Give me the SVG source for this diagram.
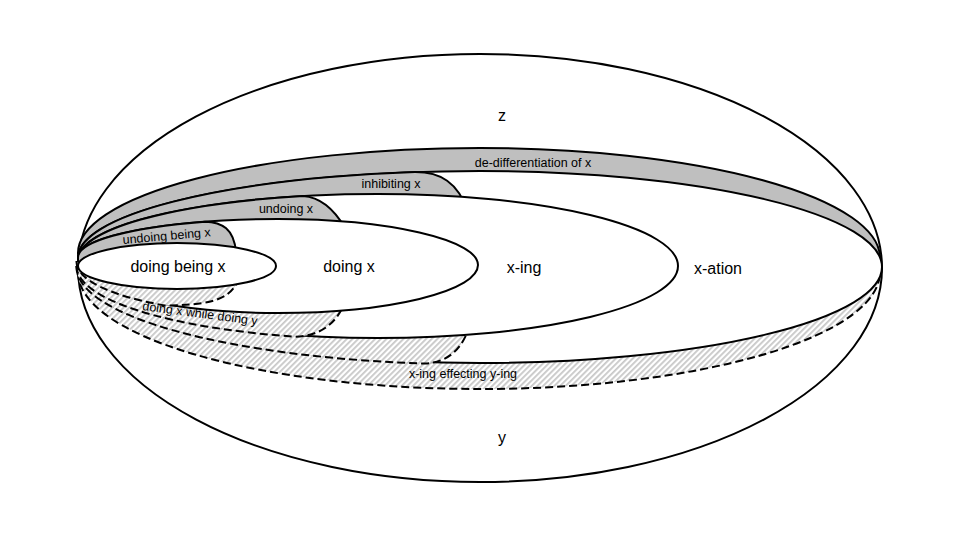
<svg xmlns="http://www.w3.org/2000/svg" width="960" height="540" viewBox="0 0 960 540">
<defs>
<pattern id="hatch" patternUnits="userSpaceOnUse" width="4" height="4" patternTransform="rotate(45)">
<rect width="4" height="4" fill="#ffffff"/>
<rect width="1.8" height="4" fill="#c8c8c8"/>
</pattern>
<style>
.ln{stroke:#000;stroke-width:2;}
.wh{fill:#fff;}
.gr{fill:#bfbfbf;}
.ht{fill:url(#hatch);stroke:#000;stroke-width:2;stroke-dasharray:8 4;}
.big{font-family:"Liberation Sans",Arial,sans-serif;font-size:16px;fill:#000;}
.sm{font-family:"Liberation Sans",Arial,sans-serif;font-size:12.5px;fill:#000;}
</style>
</defs>
<rect width="960" height="540" fill="#fff"/>
<g id="z-y">
<ellipse class="ln wh" cx="480" cy="268" rx="402" ry="214"/>
<text class="big" x="502" y="121" text-anchor="middle">z</text>
<text class="big" x="502" y="443" text-anchor="middle">y</text>
</g>
<g id="de-differentiation">
<path class="ln gr" d="M78 253 A402 105 0 0 1 480 148 A400 110 0 0 1 880 258 Z"/>
<text class="sm" x="533" y="167" text-anchor="middle">de-differentiation of x</text>
</g>
<g id="x-ing-effecting-y-ing">
<path class="ht" d="M78 272 A402 117 0 0 0 480 389 A400 117 0 0 0 880 272 Z"/>
<text class="sm" x="463" y="378" text-anchor="middle">x-ing effecting y-ing</text>
</g>
<g id="x-ation">
<path class="ln wh" d="M78 267 L78 258 A402 87 0 0 1 480 171 A402 96 0 0 1 882 267 A402 96 0 0 1 480 363 A402 96 0 0 1 78 267 Z"/>
<text class="big" x="718" y="274" text-anchor="middle">x-ation</text>
</g>
<g id="inhibiting">
<path class="ln gr" d="M78 267 L78 258 A402 87 0 0 1 415 172.1 C440 172 458 182 468 212 L468 266 Z"/>
<text class="sm" x="391" y="188" text-anchor="middle">inhibiting x</text>
</g>
<g id="x-ing-under">
<path class="ht" d="M76.5 267 A403.5 97.5 0 0 0 425 363.6 C448 362 462 350 470 325 L470 267 Z"/>
</g>
<g id="x-ing">
<path class="ln wh" d="M78 266 L78 260 A300 66 0 0 1 378 194 A300 72 0 0 1 678 266 A300 72 0 0 1 378 338 A300 72 0 0 1 78 266 Z"/>
<text class="big" x="524" y="273" text-anchor="middle">x-ing</text>
</g>
<g id="undoing">
<path class="ln gr" d="M78 266 L78 260 A300 66 0 0 1 303 196.1 C316 197 331 204 345 228 L345 266 Z"/>
<text class="sm" x="286" y="213" text-anchor="middle">undoing x</text>
</g>
<g id="doing-x-while-doing-y">
<path class="ht" d="M76.5 266 A301.5 73.5 0 0 0 295 336.7 C318 336 336 326 346 300 L346 266 Z"/>
<text class="sm" x="142" y="310" transform="rotate(7.5 142 310)">doing x while doing y</text>
</g>
<g id="doing-x">
<path class="ln wh" d="M78 262 L78 257.5 A200 38.5 0 0 1 278 219 A200 46 0 0 1 478 265 A200 48 0 0 1 278 313 A200 51 0 0 1 78 262 Z"/>
<text class="big" x="349" y="272" text-anchor="middle">doing x</text>
</g>
<g id="undoing-being">
<path class="ln gr" d="M78 262 L78 257.5 A200 38.5 0 0 1 205 221.7 C222 222 234 229 236 252 L236 266 Z"/>
<text class="sm" x="123" y="244" font-size="12" transform="rotate(-5 123 244)">undoing being x</text>
</g>
<g id="doing-x-under">
<path class="ht" d="M76.5 262 A201.5 52.5 0 0 0 165 305.5 C200 305 230 303 238 280 L238 266 Z"/>
</g>
<g id="doing-being-x">
<ellipse class="ln wh" cx="177" cy="266" rx="99" ry="23"/>
<text class="big" x="178" y="272" text-anchor="middle">doing being x</text>
</g>
<g id="connectors"/>
</svg>
